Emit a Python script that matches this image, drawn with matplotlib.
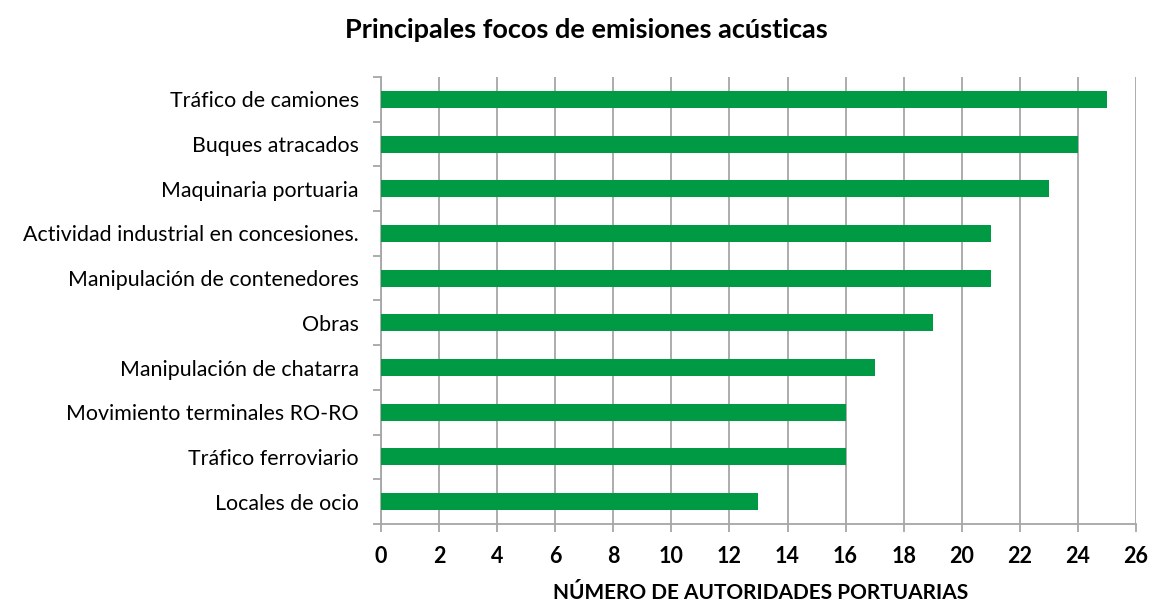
import numpy as np
import matplotlib.pyplot as plt

plt.rcParams['font.family'] = ['Lato', 'DejaVu Sans']

# focos de ruido (de abajo hacia arriba) y número de autoridades portuarias
categorias = ['Locales de ocio', 'Tráfico ferroviario', 'Movimiento terminales RO-RO',
              'Manipulación de chatarra', 'Obras', 'Manipulación de contenedores',
              'Actividad industrial en concesiones.', 'Maquinaria portuaria',
              'Buques atracados', 'Tráfico de camiones']
valores = [13, 16, 16, 17, 19, 21, 21, 23, 24, 25]
xticks = np.arange(0, 27, 2)

fig = plt.figure(figsize=(11.5, 6.02), dpi=100)
axs = fig.add_axes([0.3313, 0.1296, 0.9878 - 0.3313, 0.8721 - 0.1296])

y = np.arange(len(categorias))
axs.barh(y, valores, height=0.38, color='#009A44', zorder=3)

axs.set_xlim(0, 26)
axs.set_ylim(-0.5, len(categorias) - 0.5)
axs.set_xticks(xticks)
axs.set_xticklabels([str(t) for t in xticks], fontsize=15.5, fontweight='bold')
axs.set_yticks(y)
axs.set_yticklabels(categorias, fontsize=15.4)
axs.set_yticks(np.arange(-0.5, len(categorias), 1), minor=True)

axs.grid(axis='x', color='#A6A6A6', linewidth=1.3, zorder=0)
axs.tick_params(axis='y', which='major', length=0, pad=16)
axs.tick_params(axis='y', which='minor', length=6, color='#A6A6A6', width=1.3)
axs.tick_params(axis='x', length=6, color='#A6A6A6', width=1.3, pad=10)

for s in ['top', 'right']:
    axs.spines[s].set_visible(False)
for s in ['left', 'bottom']:
    axs.spines[s].set_color('#A6A6A6')
    axs.spines[s].set_linewidth(1.3)

fig.text(0.51, 0.95, 'Principales focos de emisiones acústicas', ha='center', va='center',
         fontsize=19.5, fontweight='bold')
fig.text(0.661, 0.015, 'NÚMERO DE AUTORIDADES PORTUARIAS', ha='center', va='center',
         fontsize=15, fontweight='bold')

plt.savefig('out.png', dpi=100)
